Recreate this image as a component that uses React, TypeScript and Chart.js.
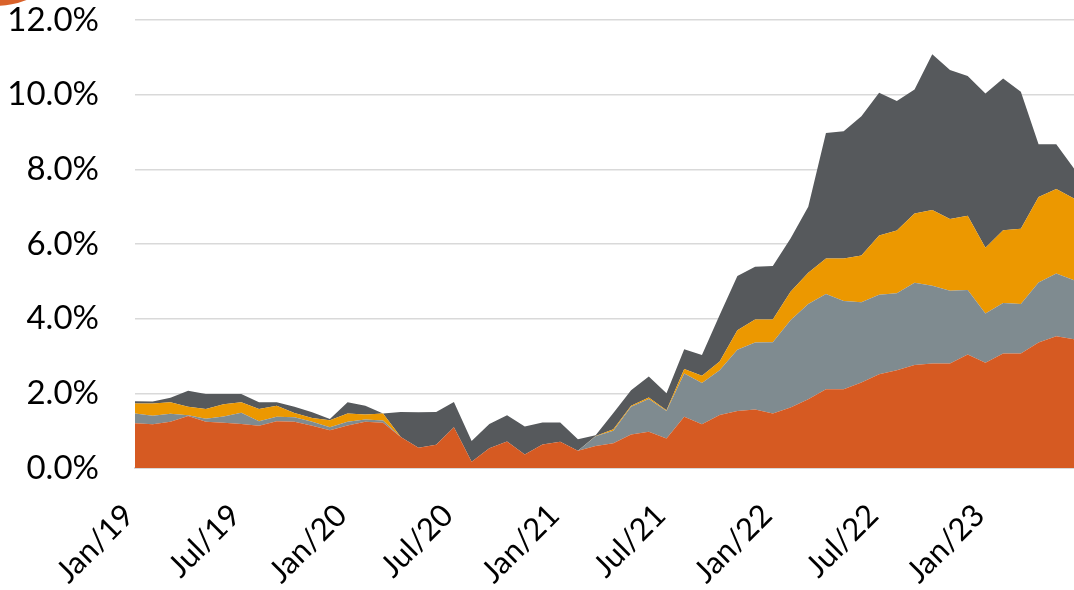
import { useEffect, useRef } from 'react';
import { Chart, registerables } from 'chart.js';

Chart.register(...registerables);

const months = [
  'Jan/19', 'Feb/19', 'Mar/19', 'Apr/19', 'May/19', 'Jun/19', 'Jul/19', 'Aug/19', 'Sep/19', 'Oct/19', 'Nov/19', 'Dec/19',
  'Jan/20', 'Feb/20', 'Mar/20', 'Apr/20', 'May/20', 'Jun/20', 'Jul/20', 'Aug/20', 'Sep/20', 'Oct/20', 'Nov/20', 'Dec/20',
  'Jan/21', 'Feb/21', 'Mar/21', 'Apr/21', 'May/21', 'Jun/21', 'Jul/21', 'Aug/21', 'Sep/21', 'Oct/21', 'Nov/21', 'Dec/21',
  'Jan/22', 'Feb/22', 'Mar/22', 'Apr/22', 'May/22', 'Jun/22', 'Jul/22', 'Aug/22', 'Sep/22', 'Oct/22', 'Nov/22', 'Dec/22',
  'Jan/23', 'Feb/23', 'Mar/23', 'Apr/23', 'May/23', 'Jun/23',
];

const shownTicks = ['Jan/19', 'Jul/19', 'Jan/20', 'Jul/20', 'Jan/21', 'Jul/21', 'Jan/22', 'Jul/22', 'Jan/23'];

const seriesOrange = [
  1.20, 1.17, 1.24, 1.39, 1.24, 1.21, 1.18, 1.13, 1.25, 1.24, 1.13, 1.01, 1.14, 1.24, 1.21,
  0.83, 0.54, 0.62, 1.09, 0.17, 0.53, 0.71, 0.36, 0.63, 0.70,
  0.46, 0.59, 0.66, 0.90, 0.97, 0.79, 1.37, 1.17, 1.42, 1.53,
  1.57, 1.46, 1.62, 1.84, 2.11, 2.11, 2.29, 2.51, 2.62, 2.76,
  2.80, 2.80, 3.04, 2.82, 3.07, 3.07, 3.36, 3.53, 3.45,
];

const seriesGray = [
  0.26, 0.23, 0.21, 0.02, 0.08, 0.17, 0.30, 0.12, 0.12, 0.12, 0.11, 0.08, 0.10, 0.06, 0.06,
  0, 0, 0, 0, 0, 0, 0, 0, 0, 0,
  0, 0.26, 0.34, 0.74, 0.88, 0.74, 1.16, 1.11, 1.20, 1.64,
  1.79, 1.91, 2.34, 2.55, 2.55, 2.36, 2.15, 2.13, 2.06, 2.20,
  2.08, 1.95, 1.73, 1.32, 1.35, 1.32, 1.61, 1.68, 1.58,
];

const seriesYellow = [
  0.27, 0.33, 0.31, 0.23, 0.26, 0.33, 0.28, 0.33, 0.30, 0.11, 0.10, 0.19, 0.22, 0.13, 0.19,
  0, 0, 0, 0, 0, 0, 0, 0, 0, 0,
  0, 0.01, 0.04, 0.03, 0.04, 0.02, 0.12, 0.19, 0.23, 0.52,
  0.62, 0.61, 0.76, 0.84, 0.95, 1.14, 1.25, 1.59, 1.68, 1.86,
  2.03, 1.92, 1.99, 1.76, 1.95, 2.02, 2.29, 2.26, 2.19,
];

const seriesDark = [
  0.06, 0.05, 0.12, 0.43, 0.40, 0.27, 0.22, 0.18, 0.09, 0.17, 0.15, 0.03, 0.30, 0.24, 0.00,
  0.67, 0.95, 0.88, 0.68, 0.55, 0.65, 0.70, 0.75, 0.59, 0.52,
  0.31, 0.02, 0.43, 0.41, 0.56, 0.45, 0.53, 0.56, 1.25, 1.45,
  1.41, 1.43, 1.43, 1.77, 3.36, 3.41, 3.73, 3.82, 3.47, 3.32,
  4.17, 3.99, 3.74, 4.13, 4.06, 3.67, 1.41, 1.20, 0.80,
];

const COLORS = {
  orange: '#D65A22',
  gray: '#7F8B90',
  yellow: '#EC9800',
  dark: '#56595C',
  grid: '#D9D9D9',
  logo: '#D9622B',
};

const FONT_FAMILY = 'Lato, "Open Sans", sans-serif';

export default function App() {
  const ref = useRef<HTMLCanvasElement>(null);

  useEffect(() => {
    const logoPlugin = {
      id: 'logoArc',
      afterDraw(chart: any) {
        const c = chart.ctx;
        c.save();
        c.fillStyle = COLORS.logo;
        c.beginPath();
        c.arc(-5, -80, 86, 0, Math.PI * 2);
        c.fill();
        c.restore();
      },
    };

    const mk = (label: string, data: number[], color: string, fill: any) => ({
      label,
      data,
      backgroundColor: color,
      borderColor: 'rgba(0,0,0,0)',
      borderWidth: 0,
      pointRadius: 0,
      pointHoverRadius: 0,
      tension: 0,
      fill,
    });

    const chart = new Chart(ref.current as HTMLCanvasElement, {
      type: 'line',
      data: {
        labels: months,
        datasets: [
          mk('Orange', seriesOrange, COLORS.orange, 'origin'),
          mk('Gray', seriesGray, COLORS.gray, '-1'),
          mk('Yellow', seriesYellow, COLORS.yellow, '-1'),
          mk('Dark', seriesDark, COLORS.dark, '-1'),
        ],
      },
      options: {
        responsive: false,
        animation: false,
        layout: { padding: { top: 20, left: 0, right: 0, bottom: 0 } },
        plugins: {
          legend: { display: false },
          tooltip: { enabled: false },
        },
        scales: {
          x: {
            grid: { display: false, drawTicks: false },
            border: { display: true, color: COLORS.grid, width: 2 },
            ticks: {
              autoSkip: false,
              minRotation: 45,
              maxRotation: 45,
              padding: 29,
              labelOffset: -6,
              color: '#000',
              font: { family: FONT_FAMILY, size: 31 },
              callback: (_v: any, i: number) => (shownTicks.includes(months[i]) ? months[i] : ''),
            },
            afterFit: (s: any) => {
              s.height = 122;
              s.paddingLeft = 0;
              s.paddingRight = 0;
            },
          },
          y: {
            stacked: true,
            min: 0,
            max: 12,
            grid: { color: COLORS.grid, lineWidth: 1.5, drawTicks: false },
            border: { display: false },
            ticks: {
              stepSize: 2,
              padding: 36,
              color: '#000',
              font: { family: FONT_FAMILY, size: 33 },
              callback: (v: any) => Number(v).toFixed(1) + '%',
            },
            afterFit: (s: any) => {
              s.width = 135;
              s.paddingTop = 20;
              s.paddingBottom = 0;
            },
          },
        },
      },
      plugins: [logoPlugin],
    } as any);

    return () => chart.destroy();
  }, []);

  return (
    <div style={{ position: 'absolute', left: 0, top: 0, width: 1074, height: 590 }}>
      <canvas ref={ref} width={1074} height={590} style={{ display: 'block' }} />
    </div>
  );
}
